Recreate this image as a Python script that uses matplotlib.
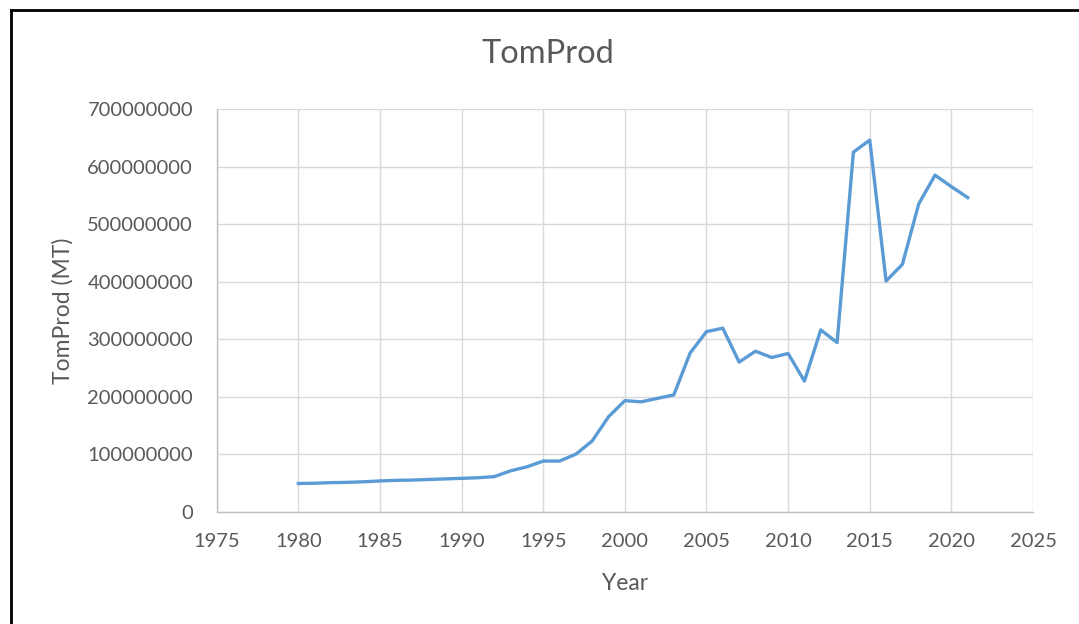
import matplotlib
matplotlib.use("Agg")
import matplotlib.pyplot as plt
from matplotlib.lines import Line2D
from matplotlib.ticker import FixedLocator, FuncFormatter

years = list(range(1980, 2022))
tom_prod = [49e6, 49.5e6, 50.5e6, 51e6, 52e6, 53.5e6, 54.5e6, 55e6, 56e6, 57e6,
            58e6, 59e6, 61e6, 71e6, 78e6, 88e6, 88e6, 100e6, 123e6, 165e6,
            193e6, 191e6, 197e6, 203e6, 276e6, 313e6, 319e6, 260e6, 279e6, 268e6,
            275e6, 227e6, 316e6, 294e6, 625e6, 646e6, 401e6, 430e6, 535e6, 585e6,
            565e6, 546e6]
x_ticks = [1975, 1980, 1985, 1990, 1995, 2000, 2005, 2010, 2015, 2020, 2025]
y_ticks = [0, 100000000, 200000000, 300000000, 400000000, 500000000, 600000000, 700000000]

plt.rcParams['font.family'] = ['Lato', 'DejaVu Sans']
txt = '#595959'

fig = plt.figure(figsize=(10.79, 6.24), dpi=100)
ax = fig.add_axes([216.7/1079, 1-511.7/624, (1033-216.7)/1079, (511.7-109)/624])

ax.plot(years, tom_prod, color='#5B9BD5', linewidth=2.4, solid_joinstyle='round')
ax.set_xlim(1975, 2025)
ax.set_ylim(0, 700000000)
ax.xaxis.set_major_locator(FixedLocator(x_ticks))
ax.yaxis.set_major_locator(FixedLocator(y_ticks))
ax.yaxis.set_major_formatter(FuncFormatter(lambda v, p: f"{int(v)}"))
ax.grid(True, color='#D9D9D9', linewidth=1)
ax.set_axisbelow(True)
for s in ['top', 'right']:
    ax.spines[s].set_visible(False)
for s in ['left', 'bottom']:
    ax.spines[s].set_color('#BFBFBF')
    ax.spines[s].set_linewidth(1)
ax.tick_params(axis='both', length=0, labelsize=14.5, labelcolor=txt)
ax.tick_params(axis='x', pad=15)
ax.tick_params(axis='y', pad=17)

fig.text(548/1079, 1-54/624, 'TomProd', ha='center', va='center', fontsize=23.5, color=txt)
fig.text(625/1079, 1-584/624, 'Year', ha='center', va='center', fontsize=16.5, color=txt)
fig.text(63/1079, 1-311/624, 'TomProd (MT)', ha='center', va='center', fontsize=16.5,
         color=txt, rotation=90)

# outer frame (top and left edges visible)
fig.add_artist(Line2D([11/1079, 1.0], [1-10/624, 1-10/624], transform=fig.transFigure,
                      color='black', linewidth=2))
fig.add_artist(Line2D([11/1079, 11/1079], [0, 1-10/624], transform=fig.transFigure,
                      color='black', linewidth=2))

fig.savefig('out.png', dpi=100)
